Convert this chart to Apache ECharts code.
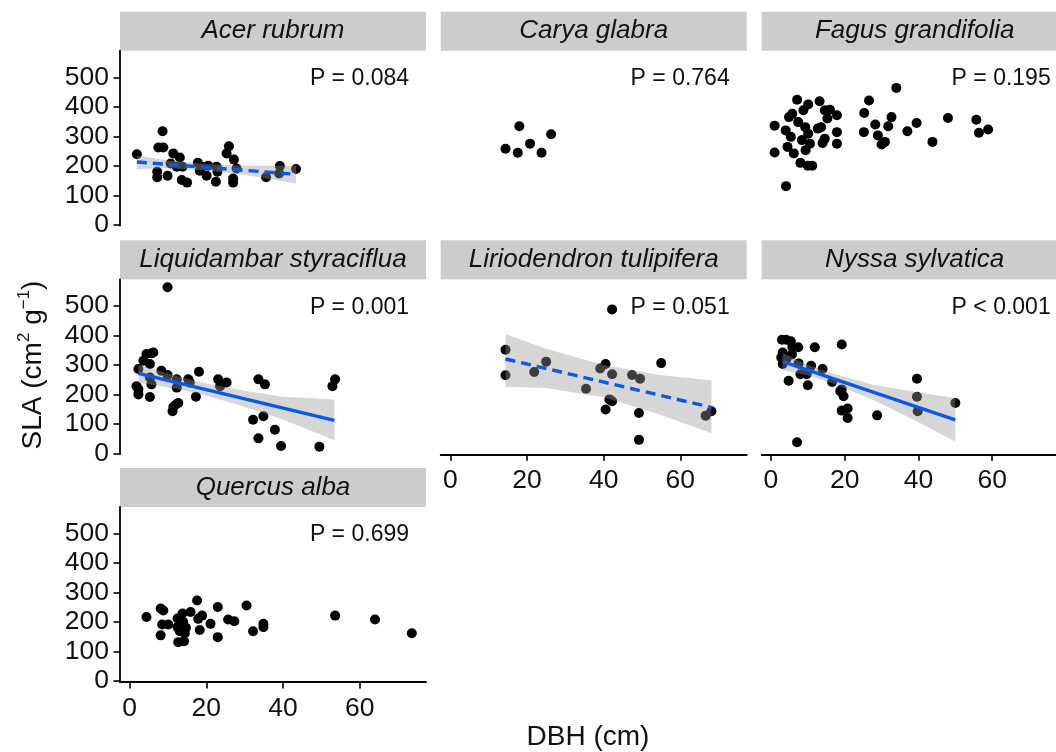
<!DOCTYPE html>
<html>
<head>
<meta charset="utf-8">
<script src="https://cdn.jsdelivr.net/npm/echarts@6/dist/echarts.min.js"></script>
<style>
  html, body { margin: 0; padding: 0; background: #fff; }
  #main { width: 1056px; height: 752px; }
</style>
</head>
<body>
<div id="main"></div>
<script>
var chart = echarts.init(document.getElementById('main'));

// tick labels
var xTicks = [0, 20, 40, 60];
var yTicks = [0, 100, 200, 300, 400, 500];

var species = ['Acer rubrum', 'Carya glabra', 'Fagus grandifolia',
  'Liquidambar styraciflua', 'Liriodendron tulipifera', 'Nyssa sylvatica', 'Quercus alba'];
var pLabels = ['P = 0.084', 'P = 0.764', 'P = 0.195', 'P = 0.001', 'P = 0.051', 'P < 0.001', 'P = 0.699'];

// [DBH, SLA]
var acerPts = [[1.9, 239], [7.2, 180], [7.2, 161], [7.5, 262], [8.8, 262], [8.6, 317], [9.9, 166],
  [10.7, 208], [11.4, 242], [13.1, 228], [12.3, 197], [13.8, 197], [13.6, 152], [15.0, 143],
  [17.8, 210], [18.3, 183], [20.1, 166], [18.9, 197], [20.5, 200], [22.5, 146], [22.7, 197],
  [22.9, 180], [25.9, 266], [25.3, 242], [27.2, 221], [27.9, 191], [27.0, 157], [27.0, 143],
  [35.6, 161], [39.0, 174], [39.2, 199], [43.4, 189]];
var caryaPts = [[14.4, 258], [17.6, 244], [18.0, 334], [20.8, 275], [23.8, 244], [26.3, 307]];
var fagusPts = [[1.0, 336], [1.0, 245], [4.1, 131], [4.0, 320], [4.5, 264], [5.4, 298], [4.9, 365],
  [6.2, 242], [7.1, 424], [5.8, 376], [7.4, 348], [8.0, 210], [8.4, 287], [8.8, 388], [9.3, 331],
  [10.1, 408], [9.4, 253], [10.0, 200], [11.2, 200], [10.1, 309], [10.6, 275], [12.7, 326],
  [13.6, 331], [13.2, 419], [14.0, 277], [14.6, 292], [14.6, 388], [15.3, 360], [16.0, 390],
  [17.9, 371], [17.9, 314], [17.9, 275], [26.6, 421], [25.3, 379], [25.2, 314], [28.3, 340],
  [29.0, 303], [30.0, 272], [30.9, 281], [31.8, 334], [32.7, 365], [34.0, 464], [37.0, 317],
  [39.5, 345], [43.8, 281], [48.0, 362], [55.7, 356], [56.4, 312], [58.9, 323]];
var liquidPts = [[9.9, 563], [2.3, 286], [1.8, 228], [2.3, 200], [2.3, 217], [3.6, 314], [4.4, 337],
  [5.7, 339], [6.2, 342], [5.3, 303], [5.3, 257], [5.7, 234], [5.3, 191], [8.3, 280], [9.9, 266],
  [12.3, 251], [12.3, 223], [11.4, 157], [11.2, 143], [12.1, 166], [12.7, 171], [15.3, 251],
  [15.7, 240], [17.3, 192], [18.1, 277], [23.1, 251], [23.6, 228], [25.3, 240], [32.2, 114],
  [33.6, 251], [35.3, 234], [34.9, 126], [33.6, 51], [37.9, 80], [39.5, 25], [49.5, 23],
  [52.9, 228], [53.6, 251]];
var lirioPts = [[42.2, 488], [14.4, 351], [14.4, 265], [21.9, 276], [25.0, 311], [35.4, 219],
  [39.1, 288], [40.5, 303], [42.2, 268], [41.5, 183], [42.2, 177], [40.5, 149], [47.4, 266],
  [49.5, 253], [49.2, 137], [49.2, 46], [55.0, 306], [68.1, 143], [66.6, 128]];
var nyssaPts = [[3.0, 385], [4.1, 385], [5.4, 380], [5.8, 360], [7.4, 360], [3.2, 342], [5.7, 335],
  [2.8, 325], [3.2, 303], [4.2, 320], [7.5, 305], [8.0, 268], [9.7, 268], [10.9, 297], [11.9, 360],
  [14.0, 286], [4.8, 246], [10.0, 231], [7.1, 38], [19.2, 369], [16.6, 242], [18.8, 211],
  [19.7, 194], [19.2, 217], [19.2, 145], [20.8, 152], [20.8, 120], [28.8, 129], [39.6, 253],
  [39.6, 192], [39.8, 143], [50.0, 171]];
var quercusPts = [[4.4, 217], [8.1, 246], [8.8, 239], [8.1, 155], [8.5, 192], [10.1, 192], [12.5, 212],
  [12.5, 183], [12.7, 132], [14.2, 135], [13.8, 229], [14.0, 200], [14.7, 181], [14.4, 162],
  [13.1, 169], [15.9, 234], [17.6, 273], [17.9, 211], [18.3, 173], [18.9, 222], [21.1, 194],
  [23.0, 251], [23.0, 149], [25.7, 209], [27.3, 203], [30.5, 256], [32.2, 169], [34.9, 194],
  [34.9, 183], [53.6, 222], [64.0, 209], [73.6, 162]];

// fitted lines (ends) and confidence bands [DBH, lower, upper]
var acerFit = [[1.9, 213], [43.4, 171]];
var acerBand = [[1.9, 188, 235], [10, 192, 218], [20, 184, 206], [30, 170, 200], [43.4, 140, 200]];
var liquidFit = [[2.3, 271], [53.4, 112]];
var liquidBand = [[2.3, 240, 300], [12, 219, 263], [20, 196, 237], [30, 158, 212], [40, 115, 192], [53.4, 45, 183]];
var lirioFit = [[14.4, 320], [68.1, 156]];
var lirioBand = [[14.4, 226, 405], [25, 222, 355], [40, 190, 300], [55, 130, 265], [68.1, 68, 248]];
var nyssaFit = [[3.2, 311], [50, 114]];
var nyssaBand = [[3.2, 282, 340], [10, 264, 300], [17, 236, 270], [28, 180, 232], [40, 106, 206], [50, 40, 188]];

var panels = [
  { pts: acerPts, fit: acerFit, band: acerBand, dashed: true },
  { pts: caryaPts },
  { pts: fagusPts },
  { pts: liquidPts, fit: liquidFit, band: liquidBand, dashed: false },
  { pts: lirioPts, fit: lirioFit, band: lirioBand, dashed: true },
  { pts: nyssaPts, fit: nyssaFit, band: nyssaBand, dashed: false },
  { pts: quercusPts }
];

var FONT = "'Liberation Sans', Arial, Helvetica, sans-serif";
var colLeft = [120, 440.7, 761.7];
var rowTop = [50.7, 279.3, 507];
var panelW = 306, panelH = 175, stripH = 39;

var grids = [], xAxes = [], yAxes = [], series = [], graphics = [];

panels.forEach(function (p, i) {
  var col = i % 3, row = Math.floor(i / 3);
  var left = colLeft[col], top = rowTop[row];
  var showY = col === 0;
  var showX = (i === 4 || i === 5 || i === 6);

  grids.push({ left: left, top: top, width: panelW, height: panelH });

  xAxes.push({
    type: 'value', gridIndex: i, min: -2.5, max: 77.3,
    show: showX,
    splitLine: { show: false },
    axisLine: { show: true, onZero: false, lineStyle: { color: '#000', width: 1.8 } },
    axisTick: { show: true, length: 6.5, customValues: xTicks, lineStyle: { color: '#000', width: 1.6 } },
    axisLabel: { show: true, customValues: xTicks, fontSize: 26.5, color: '#111', fontFamily: FONT, margin: 13 }
  });
  yAxes.push({
    type: 'value', gridIndex: i, min: -3, max: 590,
    show: showY,
    splitLine: { show: false },
    axisLine: { show: true, onZero: false, lineStyle: { color: '#000', width: 1.8 } },
    axisTick: { show: true, length: 6.5, customValues: yTicks, lineStyle: { color: '#000', width: 1.6 } },
    axisLabel: { show: true, customValues: yTicks, fontSize: 26.5, color: '#111', fontFamily: FONT, margin: 11 }
  });

  series.push({
    type: 'scatter', xAxisIndex: i, yAxisIndex: i,
    data: p.pts, symbolSize: 10,
    itemStyle: { color: '#000', opacity: 1 },
    z: 2
  });

  if (p.band) {
    var band = p.band;
    series.push({
      type: 'custom', xAxisIndex: i, yAxisIndex: i,
      data: [[band[0][0], band[0][1]]],
      z: 3,
      renderItem: function (params, api) {
        var upper = band.map(function (r) { return api.coord([r[0], r[2]]); });
        var lower = band.slice().reverse().map(function (r) { return api.coord([r[0], r[1]]); });
        return {
          type: 'polygon',
          shape: { points: upper.concat(lower) },
          style: { fill: 'rgba(153,153,153,0.4)', stroke: null }
        };
      }
    });
    series.push({
      type: 'line', xAxisIndex: i, yAxisIndex: i,
      data: p.fit, showSymbol: false, symbol: 'none',
      lineStyle: { color: '#0a58e6', width: 3.4, type: p.dashed ? [10, 6] : 'solid' },
      z: 4
    });
  }

  // strip
  graphics.push({
    type: 'rect', shape: { x: left, y: top - stripH, width: panelW, height: stripH },
    style: { fill: '#cccccc' }, silent: true
  });
  graphics.push({
    type: 'text', x: left + panelW / 2, y: top - stripH / 2,
    style: { text: species[i], font: 'italic 26px ' + FONT, fill: '#111', align: 'center', verticalAlign: 'middle' },
    silent: true
  });
  // P value
  graphics.push({
    type: 'text', x: left + panelW - 17, y: top + 28,
    style: { text: pLabels[i], font: '23px ' + FONT, fill: '#111', align: 'right', verticalAlign: 'middle' },
    silent: true
  });
});

// axis titles
graphics.push({
  type: 'text', x: 588, y: 737,
  style: { text: 'DBH (cm)', font: '28px ' + FONT, fill: '#111', align: 'center', verticalAlign: 'middle' },
  silent: true
});
graphics.push({
  type: 'text', x: 33, y: 365, rotation: Math.PI / 2,
  style: {
    text: 'SLA (cm{s|2} g{s|\u22121})',
    font: '28px ' + FONT, fill: '#111', align: 'center', verticalAlign: 'middle',
    lineHeight: 34,
    rich: { s: { fontSize: 17, fontFamily: FONT, fill: '#111', verticalAlign: 'top', lineHeight: 34 } }
  },
  silent: true
});

chart.setOption({
  animation: false,
  backgroundColor: '#fff',
  grid: grids,
  xAxis: xAxes,
  yAxis: yAxes,
  series: series,
  graphic: graphics
});
</script>
</body>
</html>
